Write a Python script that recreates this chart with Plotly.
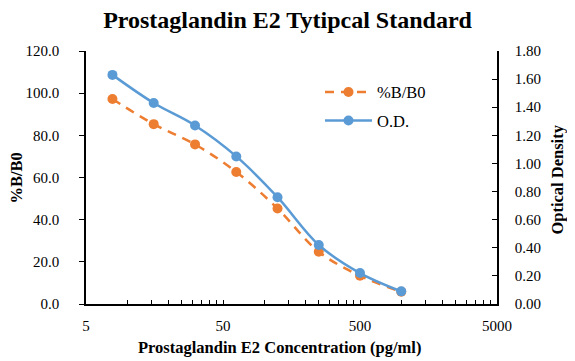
import plotly.graph_objects as go

conc = [7.8, 15.6, 31.25, 62.5, 125, 250, 500, 1000]
pct_b_b0 = [97.2, 85.3, 75.7, 62.6, 45.3, 24.8, 13.4, 5.8]
optical_density = [1.63, 1.43, 1.27, 1.05, 0.76, 0.42, 0.22, 0.09]

x_tickvals = [5, 10, 15, 20, 25, 30, 35, 40, 45, 50, 100, 150, 200, 250, 300, 350, 400, 450,
              500, 1000, 1500, 2000, 2500, 3000, 3500, 4000, 4500, 5000]
x_major = {5: "5", 50: "50", 500: "500", 5000: "5000"}
x_ticktext = [x_major.get(v, "") for v in x_tickvals]

title_text = "Prostaglandin E2 Tytipcal Standard"
x_title = "Prostaglandin E2 Concentration (pg/ml)"
y_title = "%B/B0"
y2_title = "Optical Density"

orange = "#ED7D31"
blue = "#5B9BD5"
serif = "Liberation Serif"

fig = go.Figure()
fig.add_trace(go.Scatter(
    x=conc, y=pct_b_b0, name="%B/B0", mode="lines+markers", legendgroup="a",
    line=dict(color=orange, width=2.5, dash="9px,7px", shape="spline"),
    marker=dict(color=orange, size=10), yaxis="y"))
fig.add_trace(go.Scatter(
    x=conc, y=optical_density, name="O.D.", mode="lines+markers", legendgroup="b",
    line=dict(color=blue, width=2.5, shape="spline"),
    marker=dict(color=blue, size=10), yaxis="y2"))

fig.update_layout(
    width=567, height=353,
    margin=dict(l=78, r=78, t=43, b=57),
    paper_bgcolor="white", plot_bgcolor="white",
    font=dict(family=serif, size=15, color="black"),
    title=dict(text="<b>" + title_text + "</b>", x=0.493, xanchor="center",
               y=0.966, yanchor="middle", font=dict(family=serif, size=24, color="black")),
    xaxis=dict(type="log", range=[0.69897, 3.69897], tickmode="array",
               tickvals=x_tickvals, ticktext=x_ticktext, ticks="inside", ticklen=4,
               tickwidth=1, tickcolor="black", showline=True, linecolor="black", linewidth=1.5,
               showgrid=False, zeroline=False, ticklabelstandoff=7,
               tickfont=dict(family=serif, size=15)),
    yaxis=dict(range=[0, 120], dtick=20, tickformat=".1f", ticks="outside", ticklen=5,
               tickcolor="black", showline=True, linecolor="black", linewidth=1.5,
               showgrid=False, zeroline=False, ticklabelstandoff=17,
               tickfont=dict(family=serif, size=15)),
    yaxis2=dict(range=[0, 1.8], dtick=0.2, tickformat=".2f", ticks="inside", ticklen=5,
                tickcolor="black", showline=True, linecolor="black", linewidth=1.5,
                showgrid=False, zeroline=False, overlaying="y", side="right",
                ticklabelstandoff=13,
                tickfont=dict(family=serif, size=15)),
    legend=dict(x=0.5693, y=0.906, xanchor="left", yanchor="top", bgcolor="rgba(0,0,0,0)",
                font=dict(family=serif, size=16.5), tracegroupgap=4, itemwidth=47),
    annotations=[
        dict(text="<b>" + x_title + "</b>", xref="paper", yref="paper", x=0.4696, y=-0.1727,
             xanchor="center", yanchor="middle", showarrow=False,
             font=dict(family=serif, size=16.5, color="black")),
        dict(text="<b>" + y_title + "</b>", xref="paper", yref="paper", x=-0.1679, y=0.5,
             xanchor="center", yanchor="middle", showarrow=False, textangle=-90,
             font=dict(family=serif, size=16.5, color="black")),
        dict(text="<b>" + y2_title + "</b>", xref="paper", yref="paper", x=1.145, y=0.49,
             xanchor="center", yanchor="middle", showarrow=False, textangle=-90,
             font=dict(family=serif, size=16.5, color="black")),
    ],
)

fig.write_html("out.html")
